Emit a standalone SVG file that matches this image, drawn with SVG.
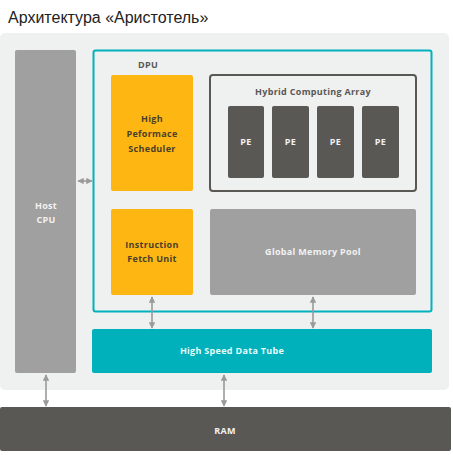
<svg xmlns="http://www.w3.org/2000/svg" width="453" height="455" viewBox="0 0 453 455">
<defs>
<style>
.t{font-family:"Open Sans","DejaVu Sans",sans-serif;font-weight:bold;font-size:9px;text-anchor:middle;letter-spacing:0.3px}
.lt{fill:#f2f2f2}
.dk{fill:#4a3f2a}
.gr{fill:#5a5855}
.con{stroke:#9a9a9a;stroke-width:1.6;fill:none;marker-start:url(#ah);marker-end:url(#ah)}
</style>
<marker id="ah" viewBox="0 0 10 10" refX="9" refY="5" markerWidth="4" markerHeight="4" orient="auto-start-reverse">
<path d="M0,0 L10,5 L0,10 z" fill="#9a9a9a"/>
</marker>
</defs>
<rect width="453" height="455" fill="#ffffff"/>
<text x="8" y="23" font-family="'Liberation Sans',Arial,sans-serif" font-size="16" fill="#222">Архитектура «Аристотель»</text>
<g id="panel"><rect x="0" y="33" width="449" height="357" rx="5" fill="#eff0f0"/></g>
<g id="host"><rect x="15" y="50" width="61" height="323" rx="2" fill="#a0a0a0"/>
<text class="t lt" x="46" y="209">Host</text><text class="t lt" x="46" y="223">CPU</text></g>
<g id="dpu"><rect x="93.5" y="50.5" width="338" height="261" rx="2" fill="none" stroke="#00b2bd" stroke-width="2"/>
<text class="t gr" x="148" y="68">DPU</text></g>
<g id="scheduler"><rect x="111" y="75" width="82" height="116" rx="2" fill="#feb712"/>
<text class="t dk" x="152" y="122">High</text><text class="t dk" x="152" y="137">Peformace</text><text class="t dk" x="152" y="152">Scheduler</text></g>
<g id="fetch"><rect x="111" y="209" width="82" height="86" rx="2" fill="#feb712"/>
<text class="t dk" x="152" y="248">Instruction</text><text class="t dk" x="152" y="262">Fetch Unit</text></g>
<g id="hca"><rect x="210" y="75" width="206" height="116" rx="3" fill="none" stroke="#5a5855" stroke-width="2"/>
<text class="t gr" x="313" y="95">Hybrid Computing Array</text></g>
<g id="pe1"><rect x="228" y="106" width="36" height="72" rx="2" fill="#5a5855"/><text class="t lt" x="246" y="145">PE</text></g>
<g id="pe2"><rect x="272" y="106" width="37" height="72" rx="2" fill="#5a5855"/><text class="t lt" x="290.5" y="145">PE</text></g>
<g id="pe3"><rect x="317" y="106" width="37" height="72" rx="2" fill="#5a5855"/><text class="t lt" x="335.5" y="145">PE</text></g>
<g id="pe4"><rect x="362" y="106" width="37" height="72" rx="2" fill="#5a5855"/><text class="t lt" x="380.5" y="145">PE</text></g>
<g id="gmp"><rect x="210" y="209" width="206" height="86" rx="2" fill="#a0a0a0"/>
<text class="t lt" x="313" y="255">Global Memory Pool</text></g>
<g id="hsdt"><rect x="92" y="329" width="340" height="44" rx="2" fill="#00b0ba"/>
<text class="t" fill="#e6fbfc" x="232" y="354">High Speed Data Tube</text></g>
<g id="ram"><rect x="0" y="407" width="451" height="44" rx="2" fill="#5a5855"/>
<text class="t lt" x="225" y="434">RAM</text></g>
<g id="connectors">
<line class="con" x1="78" y1="181" x2="92" y2="181"/>
<line class="con" x1="152" y1="297" x2="152" y2="328"/>
<line class="con" x1="313" y1="297" x2="313" y2="328"/>
<line class="con" x1="46" y1="375" x2="46" y2="406"/>
<line class="con" x1="224" y1="375" x2="224" y2="406"/>
</g>
</svg>
